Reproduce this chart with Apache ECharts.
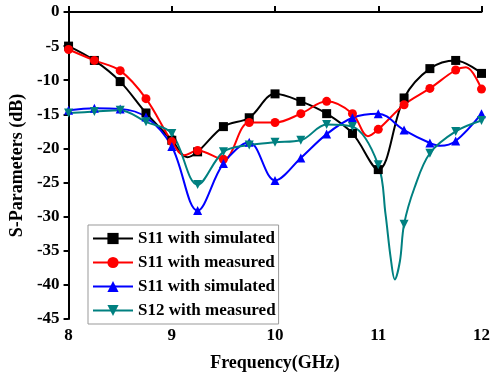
<!DOCTYPE html>
<html>
<head>
<meta charset="utf-8">
<script src="https://cdn.jsdelivr.net/npm/echarts@6/dist/echarts.min.js"></script>
<style>
  html, body { margin: 0; padding: 0; background: #fff; }
  #chart { width: 493px; height: 377px; }
</style>
</head>
<body>
<div id="chart"></div>
<script>
// frequencies where the markers sit (GHz)
const markerFreqs = [8, 8.25, 8.5, 8.75, 9, 9.25, 9.5, 9.75, 10, 10.25, 10.5, 10.75, 11, 11.25, 11.5, 11.75, 12];

// values at the marker frequencies (dB)
const s11Sim1 = [-5.0, -7.1, -10.2, -14.8, -18.8, -20.5, -16.8, -15.5, -12.0, -13.1, -14.9, -17.8, -23.1, -12.6, -8.3, -7.1, -9.0];
const s11Meas = [-5.5, -7.1, -8.6, -12.7, -19.0, -20.3, -21.6, -16.2, -16.2, -14.9, -13.1, -14.9, -17.2, -13.6, -11.2, -8.5, -11.3];
const s11Sim2 = [-14.4, -14.1, -14.2, -15.4, -19.7, -29.1, -22.2, -19.1, -24.7, -21.4, -17.9, -15.5, -14.9, -17.3, -19.2, -18.9, -14.9];
const s12Meas = [-14.8, -14.6, -14.4, -16.1, -17.8, -25.3, -20.5, -19.5, -19.1, -18.8, -16.5, -16.8, -22.4, -31.1, -20.7, -17.5, -15.9];

// extra curve points between markers (no marker drawn)
const s11Sim1Extra = [[9.15, -21.3]];
const s11MeasExtra = [[9.12, -21.0], [10.9, -18.2], [11.85, -8.1]];
const s11Sim2Extra = [[11.6, -19.6]];
const s12MeasExtra = [[11.07, -29.6], [11.12, -36.0], [11.16, -39.2], [11.21, -36.5], [11.35, -25.8]];

const legendLabels = ['S11 with simulated', 'S11 with measured', 'S11 with simulated', 'S12 with measured'];
const seriesKeys = ['a', 'b', 'c', 'd'];

function buildData(values, extra) {
  const pts = markerFreqs.map((f, i) => ({ value: [f, values[i]] }));
  extra.forEach((p) => pts.push({ value: p, symbol: 'none' }));
  pts.sort((p, q) => p.value[0] - q.value[0]);
  return pts;
}

const fontFam = '"Liberation Serif", "Times New Roman", serif';

function makeSeries(key, color, symbol, values, extra, rotate) {
  return {
    name: key,
    type: 'line',
    smooth: 0.35,
    symbol: symbol,
    symbolSize: 9,
    symbolRotate: rotate || 0,
    showAllSymbol: true,
    lineStyle: { color: color, width: 2 },
    itemStyle: { color: color },
    data: buildData(values, extra)
  };
}

const chart = echarts.init(document.getElementById('chart'), null, { renderer: 'canvas' });
chart.setOption({
  animation: false,
  grid: { left: 67, right: 5, top: 12, bottom: 54 },
  legend: {
    orient: 'vertical',
    left: 88,
    top: 225,
    padding: [5, 3, 5, 4],
    itemWidth: 40,
    itemHeight: 14,
    itemGap: 7,
    borderColor: '#999',
    borderWidth: 1,
    data: seriesKeys,
    formatter: (name) => legendLabels[seriesKeys.indexOf(name)],
    textStyle: { fontFamily: fontFam, fontWeight: 'bold', fontSize: 17, color: '#000' }
  },
  xAxis: {
    type: 'value',
    min: 8,
    max: 12,
    interval: 1,
    name: 'Frequency(GHz)',
    nameLocation: 'middle',
    nameGap: 35,
    nameTextStyle: { fontFamily: fontFam, fontWeight: 'bold', fontSize: 18, color: '#000' },
    axisLine: { lineStyle: { color: '#000', width: 2 } },
    axisTick: { inside: true, length: 6, lineStyle: { width: 2 } },
    axisLabel: { fontFamily: fontFam, fontWeight: 'bold', fontSize: 17, color: '#000', margin: 8 },
    splitLine: { show: false }
  },
  yAxis: {
    type: 'value',
    min: -45,
    max: 0,
    interval: 5,
    name: 'S-Parameters (dB)',
    nameLocation: 'middle',
    nameGap: 41,
    nameTextStyle: { fontFamily: fontFam, fontWeight: 'bold', fontSize: 18, color: '#000' },
    axisLine: { show: true, lineStyle: { color: '#000', width: 2 } },
    axisTick: { show: true, inside: false, length: 5, lineStyle: { width: 2 } },
    axisLabel: { fontFamily: fontFam, fontWeight: 'bold', fontSize: 17, color: '#000', margin: 9 },
    splitLine: { show: false }
  },
  series: [
    makeSeries('a', '#000000', 'rect', s11Sim1, s11Sim1Extra),
    makeSeries('b', '#ff0000', 'circle', s11Meas, s11MeasExtra),
    makeSeries('c', '#0000ff', 'triangle', s11Sim2, s11Sim2Extra),
    makeSeries('d', '#008080', 'triangle', s12Meas, s12MeasExtra, 180)
  ]
});
</script>
</body>
</html>
